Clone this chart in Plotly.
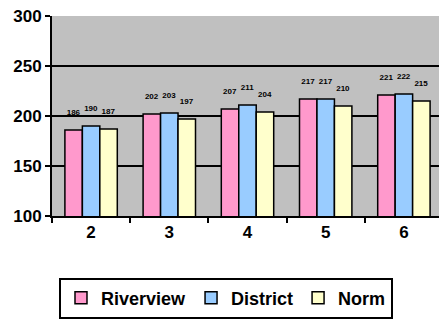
import plotly.graph_objects as go

grades = ["2", "3", "4", "5", "6"]
riverview = [186, 202, 207, 217, 221]
district = [190, 203, 211, 217, 222]
norm = [187, 197, 204, 210, 215]

series = [("Riverview", riverview, "#FF99CC"),
          ("District", district, "#99CCFF"),
          ("Norm", norm, "#FFFFCC")]

FONT = "Liberation Sans"

fig = go.Figure()
for name, vals, col in series:
    fig.add_trace(go.Bar(
        x=grades, y=vals, name=name,
        marker=dict(color=col, line=dict(color="black", width=1.5)),
        text=[f"{v}<br> " for v in vals], textposition="outside",
        textfont=dict(family=FONT, size=8, color="black", weight="bold"),
        cliponaxis=False,
    ))

fig.update_layout(
    width=439, height=311,
    margin=dict(l=44, r=4, t=8, b=103, autoexpand=False),
    paper_bgcolor="white", plot_bgcolor="#C0C0C0",
    barmode="group", bargap=0.33, bargroupgap=0.0,
    font=dict(family=FONT, color="black"),
    showlegend=True,
    legend=dict(orientation="h", x=0.445, xanchor="center", y=-0.41, yanchor="middle",
                bordercolor="black", borderwidth=2, bgcolor="white",
                font=dict(family=FONT, size=18, color="black", weight="bold"),
                itemwidth=30, traceorder="normal"),
    uniformtext=dict(minsize=7, mode="show"),
)
fig.update_yaxes(range=[100, 300], dtick=50, showgrid=True, gridcolor="black", gridwidth=2,
                 showline=True, linecolor="black", linewidth=2, ticks="outside",
                 ticklen=5, tickwidth=2, tickcolor="black", ticklabeloverflow="allow",
                 tickfont=dict(family=FONT, size=17, color="black", weight="bold"), zeroline=False)
fig.update_xaxes(showline=True, linecolor="black", linewidth=2, ticks="outside",
                 tickson="boundaries", ticklen=5, tickwidth=2, tickcolor="black",
                 tickfont=dict(family=FONT, size=17, color="black", weight="bold"))

fig.write_html("out.html")
